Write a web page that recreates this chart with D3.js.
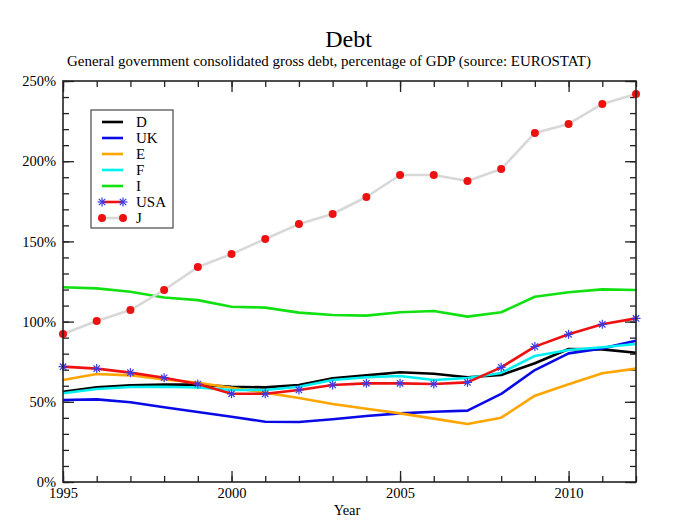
<!DOCTYPE html>
<html><head><meta charset="utf-8">
<script src="https://cdn.jsdelivr.net/npm/d3@7"></script>
<style>
body{margin:0;background:#fff;}
text{font-family:"Liberation Serif","Times New Roman",serif;fill:#000;}
</style></head>
<body>
<svg id="c" width="685" height="529"></svg>
<script>
const years = d3.range(1995, 2013);
const D   = [56.3,59.0,60.3,60.7,60.7,59.4,59.0,60.5,64.6,66.5,68.4,67.5,65.3,66.7,74.0,82.9,82.7,80.6];
const UK  = [51.1,51.5,49.7,46.6,43.6,40.7,37.6,37.4,39.1,41.1,42.8,43.8,44.5,54.9,69.8,80.2,83.3,88.1];
const E   = [63.6,67.3,66.5,64.0,61.9,58.8,55.7,52.4,48.6,45.7,42.8,39.5,36.2,40.1,53.8,60.9,67.8,70.7];
const F   = [55.3,58.0,59.2,59.4,58.9,57.4,57.4,59.4,63.6,65.3,66.1,63.6,64.8,68.0,78.6,82.3,84.0,86.0];
const I   = [121.4,120.7,118.6,115.0,113.4,109.3,108.7,105.6,104.1,103.7,105.8,106.6,103.1,105.8,115.5,118.3,120.1,119.7];
const USA = [71.9,70.7,68.2,65.0,61.1,55.0,55.0,57.4,60.5,61.5,61.5,61.1,62.1,71.5,84.4,92.1,98.3,102.0];
const J   = [92.3,100.4,107.2,119.7,134.0,142.1,151.5,160.8,167.1,177.7,191.4,191.4,187.7,195.1,217.6,223.2,235.7,241.9];
const yTicks = [0,50,100,150,200,250];
const xTicks = [1995,2000,2005,2010];
const seriesNames = ["D","UK","E","F","I","USA","J"];

const series = [
  {name:"D", values:D, color:"#000000"},
  {name:"UK", values:UK, color:"#0a0ae6"},
  {name:"E", values:E, color:"#ffa500"},
  {name:"F", values:F, color:"#00f0f0"},
  {name:"I", values:I, color:"#11e011"},
  {name:"USA", values:USA, color:"#ee1111", marker:"star"},
  {name:"J", values:J, color:"#d8d8d8", marker:"dot"}
];

const svg = d3.select("#c");
const L=63, R=636, T=81, B=482;
const x = d3.scaleLinear().domain([1995,2012]).range([L,R]);
const y = d3.scaleLinear().domain([0,250]).range([B,T]);

// titles
svg.append("text").attr("x",348.5).attr("y",47).attr("text-anchor","middle").attr("font-size",24).text("Debt");
svg.append("text").attr("x",329).attr("y",66).attr("text-anchor","middle").attr("font-size",15.5)
  .attr("textLength",524).attr("lengthAdjust","spacingAndGlyphs")
  .text("General government consolidated gross debt, percentage of GDP (source: EUROSTAT)");

// axes
function styleAxis(g){ g.select(".domain").remove(); g.selectAll("line").attr("stroke","#222").attr("stroke-width",1.3); }
const minorX = years, minorY = d3.range(0,251,10);
svg.append("g").attr("transform",`translate(0,${B})`).call(d3.axisBottom(x).tickValues(minorX).tickSize(-6).tickFormat("")).call(styleAxis);
svg.append("g").attr("transform",`translate(0,${B})`).call(d3.axisBottom(x).tickValues(xTicks).tickSize(-11).tickPadding(6).tickFormat(d3.format("d"))).call(styleAxis)
  .selectAll("text").attr("font-size",14.5).attr("font-family","Liberation Serif").attr("fill","#000");
svg.append("g").attr("transform",`translate(0,${T})`).call(d3.axisTop(x).tickValues(minorX).tickSize(-6).tickFormat("")).call(styleAxis);
svg.append("g").attr("transform",`translate(0,${T})`).call(d3.axisTop(x).tickValues(xTicks).tickSize(-11).tickFormat("")).call(styleAxis);
svg.append("g").attr("transform",`translate(${L},0)`).call(d3.axisLeft(y).tickValues(minorY).tickSize(-6).tickFormat("")).call(styleAxis);
svg.append("g").attr("transform",`translate(${L},0)`).call(d3.axisLeft(y).tickValues(yTicks).tickSize(-11).tickPadding(7).tickFormat(d=>d+"%")).call(styleAxis)
  .selectAll("text").attr("font-size",14.5).attr("font-family","Liberation Serif").attr("fill","#000");
svg.append("g").attr("transform",`translate(${R},0)`).call(d3.axisRight(y).tickValues(minorY).tickSize(-6).tickFormat("")).call(styleAxis);
svg.append("g").attr("transform",`translate(${R},0)`).call(d3.axisRight(y).tickValues(yTicks).tickSize(-11).tickFormat("")).call(styleAxis);

svg.append("text").attr("x",347).attr("y",515).attr("text-anchor","middle").attr("font-size",14.5).text("Year");

// lines
const line = d3.line().x((d,i)=>x(years[i])).y(d=>y(d));
const plot = svg.append("g");
function star(g, cx, cy, r, color){
  for (let a=0;a<4;a++){
    const ang = a*Math.PI/4;
    g.append("line").attr("x1",cx-r*Math.cos(ang)).attr("y1",cy-r*Math.sin(ang))
      .attr("x2",cx+r*Math.cos(ang)).attr("y2",cy+r*Math.sin(ang)).attr("stroke",color).attr("stroke-width",1.2);
  }
}
series.forEach(s=>{
  plot.append("path").datum(s.values).attr("d",line).attr("fill","none").attr("stroke",s.color)
    .attr("stroke-width",2.6).attr("stroke-linejoin","round");
  if (s.marker==="dot"){
    plot.selectAll(null).data(s.values).enter().append("circle")
      .attr("cx",(d,i)=>x(years[i])).attr("cy",d=>y(d)).attr("r",4).attr("fill","#ee1111");
  }
  if (s.marker==="star"){
    const g = plot.append("g");
    s.values.forEach((d,i)=>star(g, x(years[i]), y(d), 4.5, "#3a3ae8"));
  }
});

// frame
svg.append("rect").attr("x",L).attr("y",T).attr("width",R-L).attr("height",B-T).attr("fill","none").attr("stroke","#222").attr("stroke-width",1.6);

// legend
const lg = svg.append("g");
lg.append("rect").attr("x",91).attr("y",110).attr("width",82).attr("height",118).attr("fill","#fff").attr("stroke","#555").attr("stroke-width",1.3);
series.forEach((s,i)=>{
  const cy = 122 + i*16;
  lg.append("line").attr("x1",102).attr("x2",123).attr("y1",cy).attr("y2",cy).attr("stroke",s.color).attr("stroke-width",2.6);
  if (s.marker==="dot"){ [102,123].forEach(cx=>lg.append("circle").attr("cx",cx).attr("cy",cy).attr("r",4).attr("fill","#ee1111")); }
  if (s.marker==="star"){ [102,123].forEach(cx=>star(lg,cx,cy,4.5,"#3a3ae8")); }
  lg.append("text").attr("x",136).attr("y",cy+5).attr("font-size",15).text(seriesNames[i]);
});
</script>
</body></html>
